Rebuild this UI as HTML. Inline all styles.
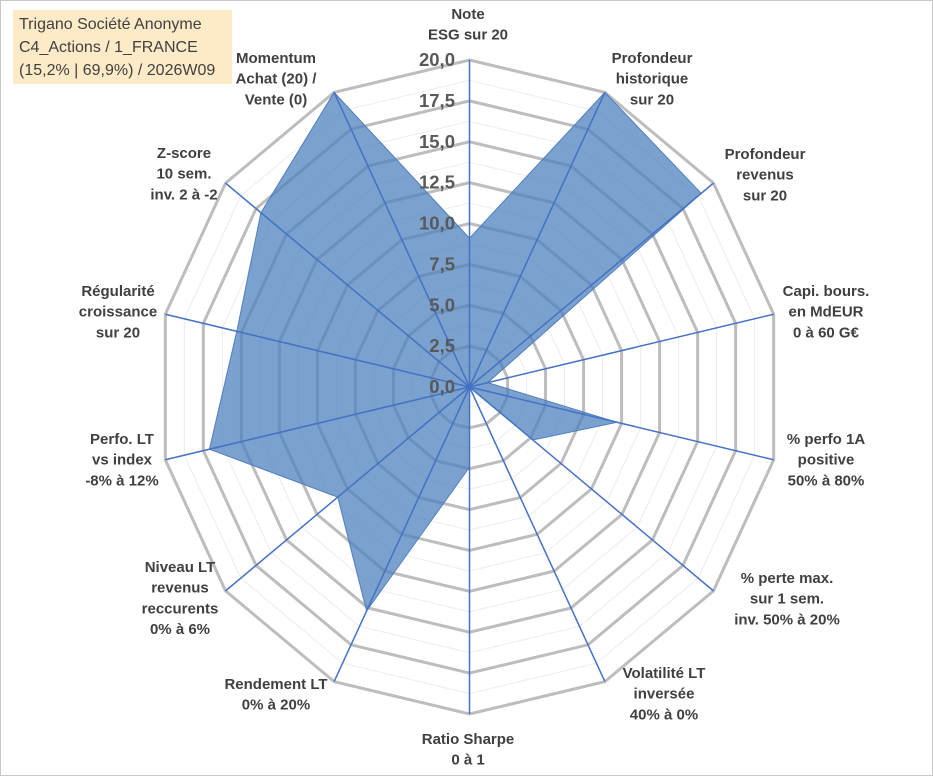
<!DOCTYPE html>
<html><head><meta charset="utf-8"><style>
body{margin:0;background:#fff;}
#wrap{position:relative;width:933px;height:776px;overflow:hidden;font-family:"Liberation Sans",sans-serif;}
#frame{position:absolute;left:0;top:0;width:931px;height:774px;border:1px solid #c8c8c8;}
#title{position:absolute;left:13px;top:10px;width:219px;height:74px;background:#fdeac6;color:#404040;font-size:16px;line-height:23px;padding:3px 0 0 6px;box-sizing:border-box;}
</style></head><body>
<div id="wrap">
<div id="frame"></div>
<svg id="chart" width="933" height="776" style="position:absolute;left:0;top:0"></svg>
<div id="title">Trigano Société Anonyme<br>C4_Actions / 1_FRANCE<br>(15,2% | 69,9%) / 2026W09</div>
</div>
<script>
const categories=[["Note","ESG sur 20"],["Profondeur","historique","sur 20"],["Profondeur","revenus","sur 20"],["Capi. bours.","en MdEUR","0 à 60 G€"],["% perfo 1A","positive","50% à 80%"],["% perte max.","sur 1 sem.","inv. 50% à 20%"],["Volatilité LT","inversée","40% à 0%"],["Ratio Sharpe","0 à 1"],["Rendement LT","0% à 20%"],["Niveau LT","revenus","reccurents","0% à 6%"],["Perfo. LT","vs index","-8% à 12%"],["Régularité","croissance","sur 20"],["Z-score","10 sem.","inv. 2 à -2"],["Momentum","Achat (20) /","Vente (0)"]];
const values=[9.1,20,19.0,1.2,9.7,5.2,0,4.9,15.2,10.8,17.1,15.3,17.1,20];
const tickLabels=["0,0","2,5","5,0","7,5","10,0","12,5","15,0","17,5","20,0"];
const labelPos=[[468,14],[652,58],[765,154],[826,291],[826,439],[787,578],[664,673],[468,739],[276,684],[180,567],[122,439],[118,291],[184,153],[276,58]];
const CX=469.5,CY=387,RX=312,RY=327,MAX=20,N=categories.length;
const svg=document.getElementById('chart');const NS='http://www.w3.org/2000/svg';
function pt(i,v){const a=i*2*Math.PI/N;return [CX+RX*(v/MAX)*Math.sin(a),CY-RY*(v/MAX)*Math.cos(a)];}
function mk(t,attrs){const e=document.createElementNS(NS,t);for(const k in attrs)e.setAttribute(k,attrs[k]);svg.appendChild(e);return e;}
function ringPts(v){let s=[];for(let i=0;i<N;i++)s.push(pt(i,v).join(','));return s.join(' ');}
for(let v=1.25;v<MAX;v+=2.5){const e=mk('polygon',{points:ringPts(v),fill:'none',stroke:'#ececec','stroke-width':1});

}
for(let k=1;k<tickLabels.length;k++){const v=k*2.5;const e=mk('polygon',{points:ringPts(v),fill:'none',stroke:'#bdbdbd','stroke-width':3});

}
const poly=mk('polygon',{points:values.map((v,i)=>pt(i,v).join(',')).join(' '),fill:'#4f81bd','fill-opacity':0.75,stroke:'#4f7fc0','stroke-width':1});


for(let i=0;i<N;i++){const p=pt(i,MAX);const e=mk('line',{x1:CX,y1:CY,x2:p[0],y2:p[1],stroke:'#4472c4','stroke-width':1.5});

}
tickLabels.forEach((t,k)=>{const y=CY-RY*(k*2.5/MAX);const e=mk('text',{x:455,y:y+6,'text-anchor':'end','font-size':18.5,'font-weight':'bold',fill:'#595959','font-family':'Liberation Sans, sans-serif'});e.textContent=t;

});
categories.forEach((lines,i)=>{const [x,y]=labelPos[i];const g=mk('text',{x:x,y:y,'text-anchor':'middle','font-size':15,'font-weight':'bold',fill:'#404040','font-family':'Liberation Sans, sans-serif'});


lines.forEach((l,j)=>{const ts=document.createElementNS(NS,'tspan');ts.setAttribute('x',x);ts.setAttribute('y',y+5+j*20.7);ts.textContent=l;g.appendChild(ts);});});
</script>
</body></html>
